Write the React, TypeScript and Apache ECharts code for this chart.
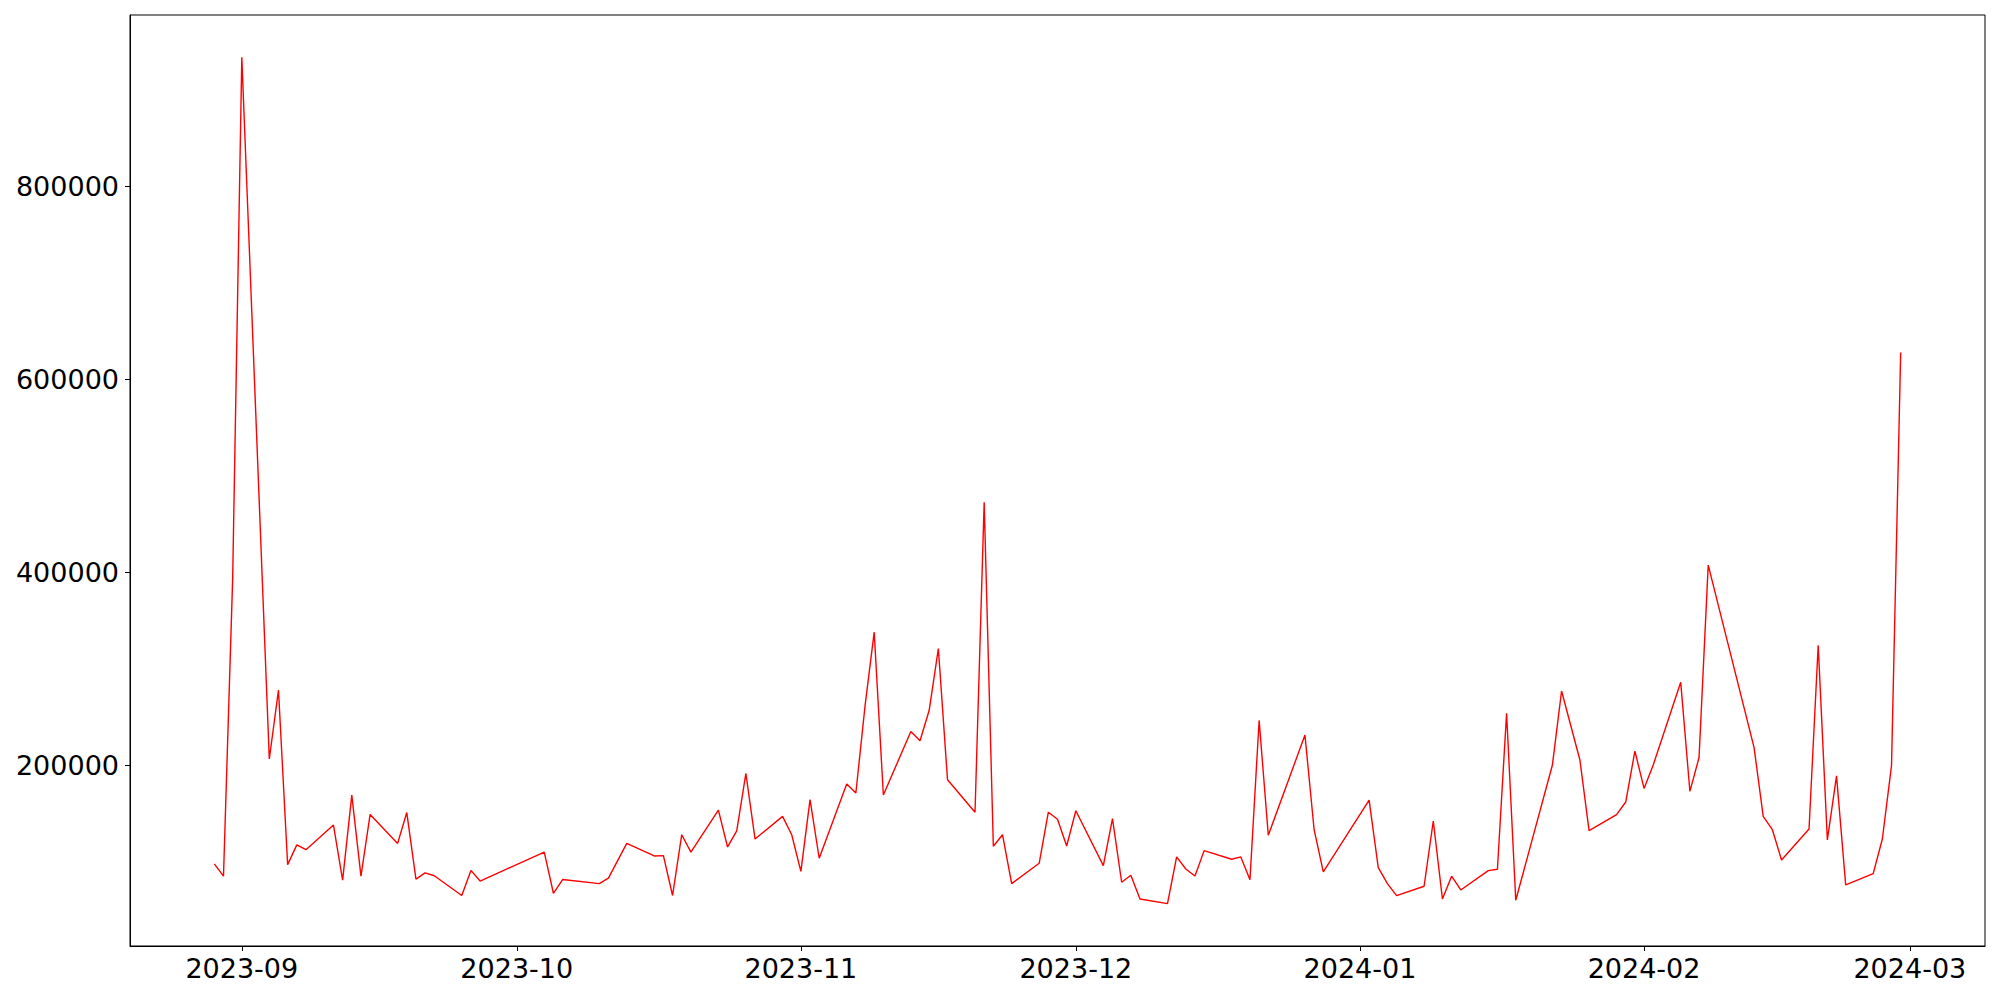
import React, { useEffect, useRef } from "react";
import * as echarts from "echarts";

const dates: string[] = [
  "2023-08-29", "2023-08-30", "2023-08-31", "2023-09-01", "2023-09-04", "2023-09-05", "2023-09-06", "2023-09-07", "2023-09-08",
  "2023-09-11", "2023-09-12", "2023-09-13", "2023-09-14", "2023-09-15", "2023-09-18", "2023-09-19", "2023-09-20", "2023-09-21",
  "2023-09-22", "2023-09-25", "2023-09-26", "2023-09-27", "2023-10-04", "2023-10-05", "2023-10-06", "2023-10-10", "2023-10-11",
  "2023-10-13", "2023-10-16", "2023-10-17", "2023-10-18", "2023-10-19", "2023-10-20", "2023-10-23", "2023-10-24", "2023-10-25",
  "2023-10-26", "2023-10-27", "2023-10-30", "2023-10-31", "2023-11-01", "2023-11-02", "2023-11-03", "2023-11-06", "2023-11-07",
  "2023-11-08", "2023-11-09", "2023-11-10", "2023-11-13", "2023-11-14", "2023-11-15", "2023-11-16", "2023-11-17", "2023-11-20",
  "2023-11-21", "2023-11-22", "2023-11-23", "2023-11-24", "2023-11-27", "2023-11-28", "2023-11-29", "2023-11-30", "2023-12-01",
  "2023-12-04", "2023-12-05", "2023-12-06", "2023-12-07", "2023-12-08", "2023-12-11", "2023-12-12", "2023-12-13", "2023-12-14",
  "2023-12-15", "2023-12-18", "2023-12-19", "2023-12-20", "2023-12-21", "2023-12-22", "2023-12-26", "2023-12-27", "2023-12-28",
  "2024-01-02", "2024-01-03", "2024-01-04", "2024-01-05", "2024-01-08", "2024-01-09", "2024-01-10", "2024-01-11", "2024-01-12",
  "2024-01-15", "2024-01-16", "2024-01-17", "2024-01-18", "2024-01-22", "2024-01-23", "2024-01-25", "2024-01-26", "2024-01-29",
  "2024-01-30", "2024-01-31", "2024-02-01", "2024-02-02", "2024-02-05", "2024-02-06", "2024-02-07", "2024-02-08", "2024-02-13",
  "2024-02-14", "2024-02-15", "2024-02-16", "2024-02-19", "2024-02-20", "2024-02-21", "2024-02-22", "2024-02-23", "2024-02-26",
  "2024-02-27", "2024-02-28", "2024-02-29",
];

const values: number[] = [
  97700, 85000, 393000, 934000, 206500, 278000, 97000, 117500, 112500,
  138000, 81000, 169000, 85000, 149000, 119000, 151000, 82000, 88500,
  85500, 65000, 91000, 80000, 110000, 67300, 81500, 77300, 83000,
  119000, 106000, 106300, 65000, 128000, 110000, 153500, 115300, 132000,
  191500, 123500, 147000, 128000, 90000, 164300, 103600, 180700, 171300,
  261500, 338000, 169200, 235000, 225500, 257000, 321000, 185000, 151300,
  472800, 116000, 128000, 77300, 98400, 151300, 144000, 116300, 152900,
  96000, 144600, 78700, 86000, 61400, 56500, 105000, 92500, 85200,
  111500, 102600, 105000, 81400, 246500, 127400, 231300, 133200, 89400,
  163800, 93800, 77300, 64800, 74600, 142200, 61400, 85000, 70700,
  90800, 92200, 254000, 60000, 200300, 277000, 205500, 132200, 148800,
  161900, 214700, 176000, 200300, 286000, 173000, 208000, 407500, 218600,
  147000, 133200, 101800, 134000, 324500, 122600, 189000, 76000, 87600,
  123600, 199600, 628000,
];

const monthTickDates: string[] = [
  "2023-09-01", "2023-10-01", "2023-11-01", "2023-12-01", "2024-01-01", "2024-02-01", "2024-03-01",
];
const monthTickLabels: string[] = ["2023-09", "2023-10", "2023-11", "2023-12", "2024-01", "2024-02", "2024-03"];

const yTickValues: number[] = [200000, 400000, 600000, 800000];

const toTs = (d: string) => Date.parse(d + "T00:00:00Z");

export default function App() {
  const ref = useRef<HTMLDivElement>(null);

  useEffect(() => {
    if (!ref.current) return;
    const chart = echarts.init(ref.current, null, { renderer: "svg" });
    const ts = dates.map(toTs);
    const data = ts.map((t, i) => [t, values[i]]);
    const xMinData = Math.min(...ts);
    const xMaxData = Math.max(...ts);
    const xPad = (xMaxData - xMinData) * 0.05;
    const yMinData = Math.min(...values);
    const yMaxData = Math.max(...values);
    const yPad = (yMaxData - yMinData) * 0.05;
    const tickTs = monthTickDates.map(toTs);
    const font = "DejaVu Sans";

    chart.setOption({
      animation: false,
      backgroundColor: "#ffffff",
      grid: {
        left: 130,
        right: 15,
        top: 15,
        bottom: 54,
        show: true,
        borderColor: "#000000",
        borderWidth: 1,
        backgroundColor: "transparent",
      },
      xAxis: {
        type: "value",
        min: xMinData - xPad,
        max: xMaxData + xPad,
        scale: true,
        splitLine: { show: false },
        axisLine: { show: true, lineStyle: { color: "#000000", width: 1 } },
        axisTick: {
          show: true,
          length: 5,
          lineStyle: { color: "#000000", width: 1 },
          customValues: tickTs,
        },
        axisLabel: {
          customValues: tickTs,
          color: "#000000",
          fontFamily: font,
          fontSize: 27,
          margin: 9,
          formatter: (v: number) => {
            const i = tickTs.indexOf(v);
            return i >= 0 ? monthTickLabels[i] : "";
          },
        },
      },
      yAxis: {
        type: "value",
        min: yMinData - yPad,
        max: yMaxData + yPad,
        scale: true,
        splitLine: { show: false },
        axisLine: { show: true, lineStyle: { color: "#000000", width: 1 } },
        axisTick: {
          show: true,
          length: 5,
          lineStyle: { color: "#000000", width: 1 },
          customValues: yTickValues,
        },
        axisLabel: {
          customValues: yTickValues,
          color: "#000000",
          fontFamily: font,
          fontSize: 27,
          margin: 11,
          formatter: (v: number) => String(v),
        },
      },
      series: [
        {
          type: "line",
          data,
          showSymbol: false,
          symbol: "none",
          lineStyle: { color: "#ff0000", width: 1.4 },
          itemStyle: { color: "#ff0000" },
        },
      ],
    });

    return () => chart.dispose();
  }, []);

  return (
    <div
      ref={ref}
      style={{ position: "absolute", left: 0, top: 0, width: 2000, height: 1000, background: "#ffffff" }}
    />
  );
}
